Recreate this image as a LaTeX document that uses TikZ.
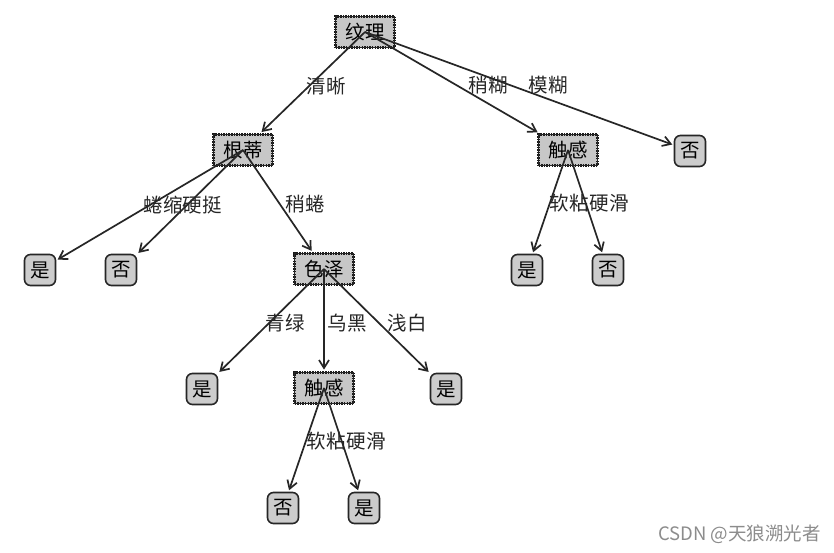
\documentclass[tikz,border=0pt]{standalone}
\usepackage{fontspec}
\setmainfont{Noto Sans CJK SC}
\usetikzlibrary{arrows.meta}
\begin{document}
\begin{tikzpicture}[x=1pt,y=-1pt,
  every node/.style={font=\fontsize{19.5}{19.5}\selectfont, inner sep=0pt},
  decision/.style={fill=black!22, draw=black!90, line width=2.8pt, minimum width=59pt, minimum height=31pt,
     dash pattern=on 1.5pt off 1.1pt, postaction={draw=black!85, line width=1pt, solid}},
  leaf/.style={fill=black!20, draw=black!85, line width=1.6pt, rounded corners=6pt, minimum width=31pt, minimum height=31pt},
  edge/.style={draw=black!85, line width=1.7pt, -{Straight Barb[length=8pt,width=10pt]}, shorten >=1.5pt},
  elabel/.style={font=\fontsize{19.5}{19.5}\selectfont, text=black!85}]
\useasboundingbox (0,0) rectangle (834,553);
\fill[white] (0,0) rectangle (834,553);
% nodes
\node[decision] (wl) at (365,32) {纹理};
\node[decision] (gd) at (243,150) {根蒂};
\node[decision] (ckR) at (568,150) {触感};
\node[leaf] (nR) at (690,151) {否};
\node[leaf] (y1) at (40,270) {是};
\node[leaf] (n1) at (121,270) {否};
\node[decision] (sz) at (324,269) {色泽};
\node[leaf] (y2) at (527,270) {是};
\node[leaf] (n2) at (608,270) {否};
\node[leaf] (y3) at (202,389) {是};
\node[decision] (ckL) at (324,388) {触感};
\node[leaf] (y4) at (446,389) {是};
\node[leaf] (n3) at (283,508) {否};
\node[leaf] (y5) at (364,508) {是};
% edges
\draw[edge] (wl.center) -- (gd);
\draw[edge] (wl.center) -- (ckR);
\draw[edge] (wl.center) -- (nR);
\draw[edge] (gd.center) -- (y1);
\draw[edge] (gd.center) -- (n1);
\draw[edge] (gd.center) -- (sz);
\draw[edge] (sz.center) -- (y3);
\draw[edge] (sz.center) -- (ckL);
\draw[edge] (sz.center) -- (y4);
\draw[edge] (ckL.center) -- (n3);
\draw[edge] (ckL.center) -- (y5);
\draw[edge] (ckR.center) -- (y2);
\draw[edge] (ckR.center) -- (n2);
% edge labels
\node[elabel] (l1) at (326,86) {清晰};
\node[elabel] (l2) at (488,85) {稍糊};
\node[elabel] (l3) at (548,85) {模糊};
\node[elabel] (l4) at (163,205) {蜷缩};
\node[elabel] (l5) at (202,205) {硬挺};
\node[elabel] (l6) at (305,204) {稍蜷};
\node[elabel] (l7) at (285,323) {青绿};
\node[elabel] (l8) at (347,323) {乌黑};
\node[elabel] (l9) at (407,323) {浅白};
\node[elabel] (l10) at (569,203) {软粘};
\node[elabel] (l11) at (609,203) {硬滑};
\node[elabel] (l12) at (326,441) {软粘};
\node[elabel] (l13) at (366,441) {硬滑};
% watermark
\node[font=\fontsize{18.5}{18.5}\selectfont, text=black!45, anchor=east] (wm) at (821,534) {CSDN @天狼溯光者};
\end{tikzpicture}
\end{document}
